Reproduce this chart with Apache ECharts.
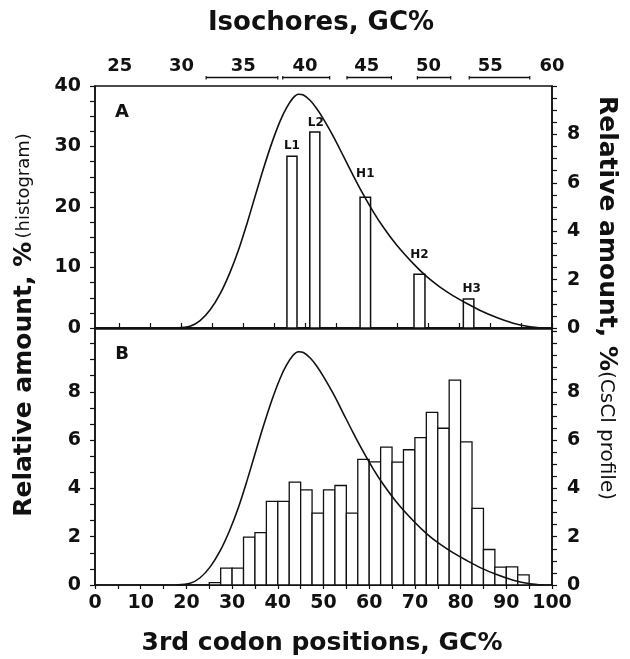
<!DOCTYPE html>
<html>
<head>
<meta charset="utf-8">
<script src="https://cdn.jsdelivr.net/npm/echarts@6/dist/echarts.min.js"></script>
<style>html,body{margin:0;padding:0;background:#fff}#c{width:630px;height:659px}</style>
</head>
<body>
<div id="c"></div>
<script>
// ---------- data ----------
const gc3TickLabels = [0, 10, 20, 30, 40, 50, 60, 70, 80, 90, 100];
const isoTickLabels = [25, 30, 35, 40, 45, 50, 55, 60];
const histATickLabels = [0, 10, 20, 30, 40];
const histBTickLabels = [0, 2, 4, 6, 8];
const csclTickLabels = [0, 2, 4, 6, 8];

// Panel A: isochore families (bars at their GC3 position)
const isoFamilies = ['L1', 'L2', 'H1', 'H2', 'H3'];
const isoBarStart = [42.0, 47.0, 58.0, 69.8, 80.6];
const isoBarEnd   = [44.2, 49.2, 60.3, 72.2, 82.9];
const isoBarPct   = [28.4, 32.4, 21.6, 8.9, 4.8];
// isochore GC ranges (top axis)
const isoRangeStart = [32.0, 38.2, 43.4, 49.1, 53.3];
const isoRangeEnd   = [37.8, 42.0, 47.0, 51.8, 58.2];

// Panel B: GC3 histogram, bins of 2.5
const binWidth = 2.5;
const binStart = [25, 27.5, 30, 32.5, 35, 37.5, 40, 42.5, 45, 47.5, 50, 52.5, 55, 57.5,
                  60, 62.5, 65, 67.5, 70, 72.5, 75, 77.5, 80, 82.5, 85, 87.5, 90, 92.5];
const binPct = [0.1, 0.7, 0.7, 1.98, 2.17, 3.46, 3.46, 4.26, 3.94, 2.98, 3.94, 4.12, 2.98, 5.2,
                5.1, 5.71, 5.09, 5.6, 6.1, 7.15, 6.49, 8.48, 5.93, 3.17, 1.47, 0.74, 0.75, 0.42];

// CsCl profile curve
const curveGC3 = [17.9, 20.8, 23.0, 25.2, 27.4, 29.5, 31.4, 33.2, 35.0, 36.8,
                  38.7, 40.5, 41.9, 43.4, 44.5, 45.6, 47.1, 48.5, 50.0, 52.2,
                  54.3, 56.5, 58.7, 60.9, 63.1, 66.0, 69.7, 72.6, 75.5, 78.4,
                  81.3, 84.3, 87.9, 91.5, 95.2, 98.1];
const curvePct = [0, 0.07, 0.3, 0.75, 1.42, 2.28, 3.22, 4.28, 5.42, 6.55,
                  7.65, 8.55, 9.1, 9.52, 9.66, 9.63, 9.4, 9.07, 8.63, 7.9,
                  7.12, 6.3, 5.52, 4.8, 4.16, 3.43, 2.65, 2.12, 1.69, 1.33,
                  1.02, 0.72, 0.43, 0.2, 0.05, 0];

// ---------- style ----------
const FONT = 'DejaVu Sans';
const INK = '#111';
const labelLift = [10, 9, 23, 19, 10];
const labelShift = [0, 1, 0, 0, 3];

function range(a, b, s) { const r = []; for (let v = a; v <= b + 1e-9; v += s) r.push(+v.toFixed(4)); return r; }

const tickLabelStyle = { color: INK, fontFamily: FONT, fontWeight: 'bold', fontSize: 19 };
const lineStyle = { color: INK, width: 1.5 };

function valAxis(o) {
  return Object.assign({
    type: 'value',
    axisLine: { show: true, lineStyle: lineStyle },
    splitLine: { show: false },
    axisTick: { show: true, inside: false, length: 5, lineStyle: { color: INK, width: 1.2 } },
    axisLabel: Object.assign({}, tickLabelStyle)
  }, o);
}

const curveA = curveGC3.map((x, i) => [x, curvePct[i]]);
const barsA = isoFamilies.map((n, i) => [isoBarStart[i], isoBarEnd[i], isoBarPct[i], i]);
const rangesIso = isoRangeStart.map((s, i) => [s, isoRangeEnd[i]]);
const barsB = binStart.map((s, i) => [s, s + binWidth, binPct[i]]);

const chart = echarts.init(document.getElementById('c'), null, { renderer: 'canvas' });

chart.setOption({
  backgroundColor: '#fff',
  animation: false,
  grid: [
    { left: 95, top: 86, width: 457, height: 242, show: true, borderColor: INK, borderWidth: 1.5, backgroundColor: 'transparent' },
    { left: 95, top: 329, width: 457, height: 256, show: true, borderColor: INK, borderWidth: 1.5, backgroundColor: 'transparent' }
  ],
  xAxis: [
    valAxis({ gridIndex: 0, min: 0, max: 100, position: 'bottom', axisLabel: { show: false }, axisTick: { show: false } }),
    valAxis({ gridIndex: 0, min: 23, max: 60, position: 'top',
      axisLabel: Object.assign({}, tickLabelStyle, { fontSize: 18, margin: 11, customValues: isoTickLabels }),
      axisTick: { show: true, inside: false, length: 5, lineStyle: { color: INK, width: 1.2 }, customValues: range(25, 60, 2.5) } }),
    valAxis({ gridIndex: 1, min: 0, max: 100, position: 'bottom',
      axisLabel: Object.assign({}, tickLabelStyle, { margin: 9, customValues: gc3TickLabels }),
      axisTick: { show: true, inside: false, length: 4, lineStyle: { color: INK, width: 1.2 }, customValues: range(0, 100, 5) } })
  ],
  yAxis: [
    valAxis({ gridIndex: 0, min: 0, max: 40, position: 'left',
      axisLabel: Object.assign({}, tickLabelStyle, { margin: 14, customValues: histATickLabels }),
      axisTick: { show: true, inside: false, length: 5, lineStyle: { color: INK, width: 1.2 }, customValues: range(0, 40, 2.5) } }),
    valAxis({ gridIndex: 0, min: 0, max: 10, position: 'right',
      axisLabel: Object.assign({}, tickLabelStyle, { margin: 15, customValues: csclTickLabels }),
      axisTick: { show: true, inside: false, length: 5, lineStyle: { color: INK, width: 1.2 }, customValues: range(0, 10, 0.5) } }),
    valAxis({ gridIndex: 1, min: 0, max: 10.6, position: 'left',
      axisLabel: Object.assign({}, tickLabelStyle, { margin: 14, customValues: histBTickLabels }),
      axisTick: { show: true, inside: false, length: 5, lineStyle: { color: INK, width: 1.2 }, customValues: range(0, 10.6, 2 / 3) } }),
    valAxis({ gridIndex: 1, min: 0, max: 10.6, position: 'right',
      axisLabel: Object.assign({}, tickLabelStyle, { margin: 15, customValues: csclTickLabels }),
      axisTick: { show: true, inside: false, length: 5, lineStyle: { color: INK, width: 1.2 }, customValues: range(0, 10.5, 0.5) } })
  ],
  series: [
    {
      type: 'custom', name: 'isochore families', xAxisIndex: 0, yAxisIndex: 0, z: 2,
      data: barsA,
      renderItem: function (params, api) {
        const i = api.value(3);
        const p0 = api.coord([api.value(0), api.value(2)]);
        const p1 = api.coord([api.value(1), 0]);
        return {
          type: 'group',
          children: [
            { type: 'rect', shape: { x: p0[0], y: p0[1], width: p1[0] - p0[0], height: p1[1] - p0[1] },
              style: { fill: '#fff', stroke: INK, lineWidth: 1.5 } },
            { type: 'text', x: (p0[0] + p1[0]) / 2 + labelShift[i], y: p0[1] - labelLift[i],
              style: { text: isoFamilies[i], font: 'bold 12px "' + FONT + '"', fill: INK, align: 'center', verticalAlign: 'middle' } }
          ]
        };
      }
    },
    {
      type: 'custom', name: 'isochore ranges', xAxisIndex: 1, yAxisIndex: 0, clip: false, z: 3,
      data: rangesIso,
      renderItem: function (params, api) {
        const a = api.coord([api.value(0), 40]);
        const b = api.coord([api.value(1), 40]);
        const y = a[1] - 8.5;
        return {
          type: 'group',
          children: [
            { type: 'line', shape: { x1: a[0], y1: y, x2: b[0], y2: y }, style: { stroke: INK, lineWidth: 1.6 } },
            { type: 'line', shape: { x1: a[0], y1: y - 1.5, x2: a[0], y2: y + 2 }, style: { stroke: INK, lineWidth: 1.2 } },
            { type: 'line', shape: { x1: b[0], y1: y - 1.5, x2: b[0], y2: y + 2 }, style: { stroke: INK, lineWidth: 1.2 } }
          ]
        };
      }
    },
    {
      type: 'line', name: 'CsCl profile A', xAxisIndex: 0, yAxisIndex: 1, z: 4,
      data: curveA, showSymbol: false, smooth: 0.3,
      lineStyle: { color: INK, width: 1.6 }
    },
    {
      type: 'custom', name: 'GC3 histogram', xAxisIndex: 2, yAxisIndex: 2, z: 2,
      data: barsB,
      renderItem: function (params, api) {
        const p0 = api.coord([api.value(0), api.value(2)]);
        const p1 = api.coord([api.value(1), 0]);
        return { type: 'rect', shape: { x: p0[0], y: p0[1], width: p1[0] - p0[0], height: p1[1] - p0[1] },
                 style: { fill: '#fff', stroke: INK, lineWidth: 1.3 } };
      }
    },
    {
      type: 'line', name: 'CsCl profile B', xAxisIndex: 2, yAxisIndex: 3, z: 4,
      data: curveA, showSymbol: false, smooth: 0.3,
      lineStyle: { color: INK, width: 1.6 }
    }
  ],
  graphic: [
    { type: 'text', x: 321, y: 23, style: { text: 'Isochores, GC%', font: 'bold 26px "' + FONT + '"', fill: INK, align: 'center', verticalAlign: 'middle' } },
    { type: 'text', x: 322, y: 643, style: { text: '3rd codon positions, GC%', font: 'bold 25px "' + FONT + '"', fill: INK, align: 'center', verticalAlign: 'middle' } },
    { type: 'text', x: 122, y: 112, style: { text: 'A', font: 'bold 18px "' + FONT + '"', fill: INK, align: 'center', verticalAlign: 'middle' } },
    { type: 'text', x: 122, y: 354, style: { text: 'B', font: 'bold 18px "' + FONT + '"', fill: INK, align: 'center', verticalAlign: 'middle' } },
    { type: 'text', x: 24, y: 325, rotation: Math.PI / 2,
      style: { text: '{a|Relative amount, %} {b|(histogram)}', align: 'center', verticalAlign: 'middle',
        rich: { a: { font: 'bold 25px "' + FONT + '"', fill: INK, color: INK }, b: { font: '18px "' + FONT + '"', fill: INK, color: INK } } } },
    { type: 'text', x: 606, y: 298, rotation: -Math.PI / 2,
      style: { text: '{a|Relative amount, %}{b|(CsCl profile)}', align: 'center', verticalAlign: 'middle',
        rich: { a: { font: 'bold 25px "' + FONT + '"', fill: INK, color: INK }, b: { font: '20px "' + FONT + '"', fill: INK, color: INK } } } }
  ]
});
</script>
</body>
</html>
